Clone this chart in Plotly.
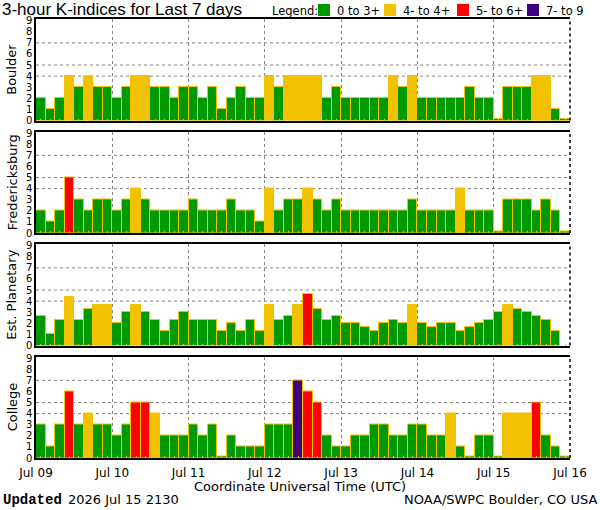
import pandas as pd
import plotly.graph_objects as go
from plotly.subplots import make_subplots

GREEN = '#009900'
GOLD = '#f2c200'
RED = '#ff0000'
PURPLE = '#3f0080'
GRID = '#808080'

days = ['2026-07-09', '2026-07-10', '2026-07-11', '2026-07-12',
        '2026-07-13', '2026-07-14', '2026-07-15', '2026-07-16']
stations = ['Boulder', 'Fredericksburg', 'Est. Planetary', 'College']
k_ticks = [0, 1, 2, 3, 4, 5, 6, 7, 8, 9]
k_grid = [4, 5, 7]
legend_labels = ['0 to 3+', '4- to 4+', '5- to 6+', '7- to 9']

# 8 three-hour values per day, Jul 09 .. Jul 15
boulder = [2, 1, 2, 4, 3, 4, 3, 3,
           2, 3, 4, 4, 3, 3, 2, 3,
           3, 2, 3, 1, 2, 3, 2, 2,
           4, 3, 4, 4, 4, 4, 2, 3,
           2, 2, 2, 2, 2, 4, 3, 4,
           2, 2, 2, 2, 2, 3, 2, 2,
           0, 3, 3, 3, 4, 4, 1, 0]
fredericksburg = [2, 1, 2, 5, 3, 2, 3, 3,
                  2, 3, 4, 3, 2, 2, 2, 2,
                  3, 2, 2, 2, 3, 2, 2, 1,
                  4, 2, 3, 3, 4, 3, 2, 3,
                  2, 2, 2, 2, 2, 2, 2, 3,
                  2, 2, 2, 2, 4, 2, 2, 2,
                  0, 3, 3, 3, 2, 3, 2, 0]
planetary = [2.67, 1.0, 2.33, 4.33, 2.33, 3.33, 3.67, 3.67,
             2.0, 3.0, 3.67, 3.0, 2.33, 1.33, 2.33, 3.0,
             2.33, 2.33, 2.33, 1.33, 2.0, 1.33, 2.33, 1.33,
             3.67, 2.33, 2.67, 3.67, 4.67, 3.33, 2.33, 2.67,
             2.0, 2.0, 1.67, 1.33, 2.0, 2.33, 2.0, 3.67,
             2.0, 1.67, 2.0, 2.0, 1.33, 1.67, 2.0, 2.33,
             3.0, 3.67, 3.33, 3.0, 2.67, 2.33, 1.33, None]
college = [3, 1, 3, 6, 3, 4, 3, 3,
           2, 3, 5, 5, 4, 2, 2, 2,
           3, 2, 3, 0, 2, 1, 1, 1,
           3, 3, 3, 7, 6, 5, 2, 1,
           1, 2, 2, 3, 3, 2, 2, 3,
           3, 2, 2, 4, 1, 0, 2, 2,
           0, 4, 4, 4, 5, 2, 1, 0]

series = [boulder, fredericksburg, planetary, college]
colors = [GREEN, GOLD, RED, PURPLE]

times = pd.date_range(days[0] + ' 01:30', periods=56, freq='3h')
bar_width = 3 * 3600 * 1000

W, H = 600, 510
L, R, T, B = 36, 30, 19, 52


def px_x(p):
    return (p - L) / (W - L - R)


def px_y(p):
    return (H - B - p) / (H - T - B)


def k_color(v):
    if v < 3.5:
        return GREEN
    if v < 4.5:
        return GOLD
    if v < 6.5:
        return RED
    return PURPLE


fig = make_subplots(rows=4, cols=1, shared_xaxes=True, vertical_spacing=11 / 439)

for i, (name, vals) in enumerate(zip(stations, series)):
    row = i + 1
    shown = [None if v is None else max(v, 0.12) for v in vals]
    fig.add_trace(go.Bar(
        x=times, y=shown, width=bar_width,
        marker=dict(color=[GREEN if v is None else k_color(v) for v in vals],
                    line=dict(color=GOLD, width=1)),
        showlegend=False, hoverinfo='skip'
    ), row=row, col=1)
    fig.update_yaxes(
        range=[0, 9.15], tickvals=k_ticks, ticks='', showgrid=False,
        showline=True, linecolor='black', linewidth=1.5, mirror=False,
        tickfont=dict(family='DejaVu Sans', size=10, color='black'),
        zeroline=False, fixedrange=True,
        row=row, col=1)
    fig.update_xaxes(
        range=[days[0], days[-1]], tickvals=days, tickformat='%b %d',
        showgrid=True, gridcolor=GRID, griddash='dot', gridwidth=1,
        showline=True, linecolor='black', linewidth=1.5, mirror=True,
        ticks='', ticklabelstandoff=3,
        tickfont=dict(family='DejaVu Sans', size=12, color='black'),
        minor=dict(tickmode='array', tickvals=list(times), ticks='inside',
                   ticklen=2, tickwidth=1, tickcolor=GOLD, showgrid=False),
        row=row, col=1)
    ax = '' if row == 1 else str(row)
    # dotted level lines at K = 4, 5, 7
    for k in k_grid:
        fig.add_shape(type='line', xref=f'x{ax} domain', yref=f'y{ax}',
                      x0=0, x1=1, y0=k, y1=k, layer='below',
                      line=dict(color=GRID, width=1, dash='dot'))
    # dashed right border of each panel
    fig.add_shape(type='line', xref=f'x{ax} domain', yref=f'y{ax} domain',
                  x0=1, x1=1, y0=0, y1=1,
                  line=dict(color='black', width=1.5, dash='3px,3px'))
    fig.add_annotation(text=name, textangle=-90, xref='paper', yref=f'y{ax} domain',
                       x=px_x(12), y=0.5, showarrow=False, xanchor='center', yanchor='middle',
                       font=dict(family='DejaVu Sans', size=13, color='black'))

# title and legend across the top
fig.add_annotation(text='3-hour K-indices for Last 7 days', xref='paper', yref='paper',
                   x=px_x(0), y=px_y(9), xanchor='left', yanchor='middle', showarrow=False,
                   font=dict(family='Liberation Sans', size=17, color='black'))
fig.add_annotation(text='Legend:', xref='paper', yref='paper',
                   x=px_x(270), y=px_y(11), xanchor='left', yanchor='middle', showarrow=False,
                   font=dict(family='DejaVu Sans', size=11.5, color='black'))
box_x = [318, 384, 457, 527]
for bx, c, lab in zip(box_x, colors, legend_labels):
    fig.add_shape(type='rect', xref='paper', yref='paper',
                  x0=px_x(bx), x1=px_x(bx + 12), y0=px_y(16), y1=px_y(4),
                  fillcolor=c, line=dict(width=0))
    fig.add_annotation(text=lab, xref='paper', yref='paper',
                       x=px_x(bx + 17), y=px_y(11), xanchor='left', yanchor='middle',
                       showarrow=False, font=dict(family='DejaVu Sans', size=11.5, color='black'))

# axis title and footer
fig.add_annotation(text='Coordinate Universal Time (UTC)', xref='paper', yref='paper',
                   x=px_x(300), y=px_y(486), xanchor='center', yanchor='middle', showarrow=False,
                   font=dict(family='DejaVu Sans', size=13, color='black'))
fig.add_annotation(text='<b>Updated</b>', xref='paper', yref='paper',
                   x=px_x(1), y=px_y(500), xanchor='left', yanchor='middle', showarrow=False,
                   font=dict(family='Liberation Mono', size=14, color='black'))
fig.add_annotation(text='2026 Jul 15 2130', xref='paper', yref='paper',
                   x=px_x(66), y=px_y(500), xanchor='left', yanchor='middle', showarrow=False,
                   font=dict(family='DejaVu Sans', size=13, color='black'))
fig.add_annotation(text='NOAA/SWPC Boulder, CO USA', xref='paper', yref='paper',
                   x=px_x(599), y=px_y(500), xanchor='right', yanchor='middle', showarrow=False,
                   font=dict(family='DejaVu Sans', size=13, color='black'))

fig.update_layout(
    width=W, height=H, autosize=False,
    margin=dict(l=L, r=R, t=T, b=B),
    paper_bgcolor='white', plot_bgcolor='white',
    bargap=0, barmode='overlay',
    showlegend=False,
)

# the page body has a default 8px margin; drop it so the chart sits at 0,0
fig.write_html('out.html', config={'displayModeBar': False},
               post_script="document.body.style.margin='0';")
